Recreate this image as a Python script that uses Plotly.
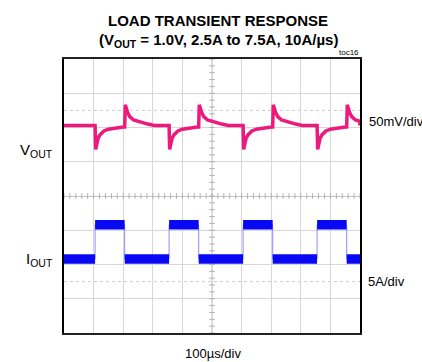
import numpy as np
import plotly.graph_objects as go

# ---------------- data ----------------
# time axis in divisions (100 us/div), 10 divisions
RISE_EDGES = [1.05, 3.55, 6.05, 8.55]   # load current 2.5A -> 7.5A
FALL_EDGES = [2.05, 4.55, 7.05, 9.55]   # load current 7.5A -> 2.5A
I_LOW = 2.5    # A
I_HIGH = 7.5   # A

# VOUT deviation (mV) after a load step up, time relative to edge (div)
STEP_UP_T = [0.0, 0.02, 0.05, 0.1, 0.17, 0.3, 0.45, 0.64, 0.95]
STEP_UP_MV = [0.0, -35.0, -27.0, -19.0, -13.5, -8.0, -5.5, -3.8, -2.3]
# VOUT deviation (mV) after a load step down
STEP_DOWN_T = [0.0, 0.02, 0.1, 0.17, 0.3, 0.44, 0.6, 0.78, 1.0]
STEP_DOWN_MV = [-2.3, 30.0, 19.0, 13.0, 8.0, 6.0, 3.5, 2.0, 0.0]

V_SCALE_MV = 50.0   # mV/div
I_SCALE_A = 5.0     # A/div
VOUT_POS = 2.06     # screen position of 1.0V (div)
IOUT_POS = -1.84    # screen position of 2.5A (div)

# ---------------- build traces ----------------
vt, vmv = [0.0], [0.0]
edges = sorted([(t, 'up') for t in RISE_EDGES] + [(t, 'dn') for t in FALL_EDGES])
for t0, kind in edges:
    T, M = (STEP_UP_T, STEP_UP_MV) if kind == 'up' else (STEP_DOWN_T, STEP_DOWN_MV)
    for dt, m in zip(T, M):
        if t0 + dt <= 10:
            vt.append(t0 + dt)
            vmv.append(m)
vt.append(10.0); vmv.append(0.0)
vy = [VOUT_POS + m / V_SCALE_MV for m in vmv]

def idiv(a):
    return IOUT_POS + (a - I_LOW) / I_SCALE_A

# thin current trace including edges
it, iv = [0.0], [I_LOW]
for r, f in zip(RISE_EDGES, FALL_EDGES):
    it += [r, r, f, f]
    iv += [I_LOW, I_HIGH, I_HIGH, I_LOW]
it.append(10.0); iv.append(I_LOW)
iy = [idiv(a) for a in iv]

# thick flat segments (noise band)
bt, by = [], []
prev = 0.0
for r, f in zip(RISE_EDGES, FALL_EDGES):
    bt += [prev, r, None, r, f, None]
    by += [idiv(I_LOW), idiv(I_LOW), None, idiv(I_HIGH), idiv(I_HIGH), None]
    prev = f
bt += [prev, 10.0]
by += [idiv(I_LOW), idiv(I_LOW)]

FONT = "Liberation Sans, Arial, sans-serif"

fig = go.Figure()

# center graticule tick marks
tx = np.arange(0, 10.001, 0.2)
ty = np.arange(-4, 4.001, 0.2)
fig.add_trace(go.Scatter(x=tx, y=[0] * len(tx), mode='markers',
                         marker=dict(symbol='line-ns', size=4, line=dict(color='#b0b0b0', width=1)),
                         hoverinfo='skip', showlegend=False))
fig.add_trace(go.Scatter(x=[5] * len(ty), y=ty, mode='markers',
                         marker=dict(symbol='line-ew', size=4, line=dict(color='#b0b0b0', width=1)),
                         hoverinfo='skip', showlegend=False))

fig.add_trace(go.Scatter(x=vt, y=vy, mode='lines',
                         line=dict(color='#ec1a7c', width=3.5), showlegend=False))
fig.add_trace(go.Scatter(x=it, y=iy, mode='lines',
                         line=dict(color='#8c8cff', width=1), showlegend=False))
fig.add_trace(go.Scatter(x=bt, y=by, mode='lines', connectgaps=False,
                         line=dict(color='#0808f4', width=9.5), showlegend=False))

for yy in (2.5, -2.5):
    fig.add_shape(type='line', x0=0, x1=10, y0=yy, y1=yy, xref='x', yref='y',
                  line=dict(color='#cccccc', width=1, dash='dot'), layer='below')
fig.add_shape(type='line', x0=5, x1=5, y0=-4, y1=4, xref='x', yref='y',
              line=dict(color='#c4c4c4', width=1), layer='below')

L, R, T, B = 64, 360, 59, 333.5
W, H = R - L, B - T
def px(x): return (x - L) / W
def py(y): return (B - y) / H

def A(text, x, y, size, xanchor='center'):
    return dict(text=text, x=px(x), y=py(y), xref='paper', yref='paper',
                xanchor=xanchor, yanchor='middle', showarrow=False,
                font=dict(family=FONT, size=size, color='black'))

annotations = [
    A("<b>LOAD TRANSIENT RESPONSE</b>", 218, 20.5, 15),
    A("<b>(V<sub>OUT</sub> = 1.0V, 2.5A to 7.5A, 10A/µs)</b>", 218, 40, 15),
    A("toc16", 337, 52, 8, 'left'),
    A("V<sub>OUT</sub>", 55, 151, 15, 'right'),
    A("I<sub>OUT</sub>", 55, 260, 15, 'right'),
    A("50mV/div", 367, 122, 13, 'left'),
    A("5A/div", 366, 282, 13, 'left'),
    A("100µs/div", 213, 354, 13),
]

fig.update_layout(
    width=422, height=362,
    margin=dict(l=L, r=422 - R, t=T, b=362 - B, pad=0),
    paper_bgcolor='white', plot_bgcolor='white',
    annotations=annotations,
    showlegend=False,
)
fig.update_xaxes(range=[0, 10], dtick=1, tick0=0, showgrid=True, gridcolor='#d6d6d6', gridwidth=1,
                 showticklabels=False, ticks='', zeroline=False,
                 showline=True, linecolor='#222222', linewidth=1.5, mirror=True, fixedrange=True)
fig.update_yaxes(range=[-4, 4], dtick=1, tick0=0, showgrid=True, gridcolor='#d6d6d6', gridwidth=1,
                 showticklabels=False, ticks='', zeroline=True, zerolinecolor='#c4c4c4', zerolinewidth=1,
                 showline=True, linecolor='black', linewidth=2, mirror=True, fixedrange=True)

fig.write_html("out.html", config={'displayModeBar': False},
               post_script="document.body.style.margin='0';document.body.style.padding='0';")
